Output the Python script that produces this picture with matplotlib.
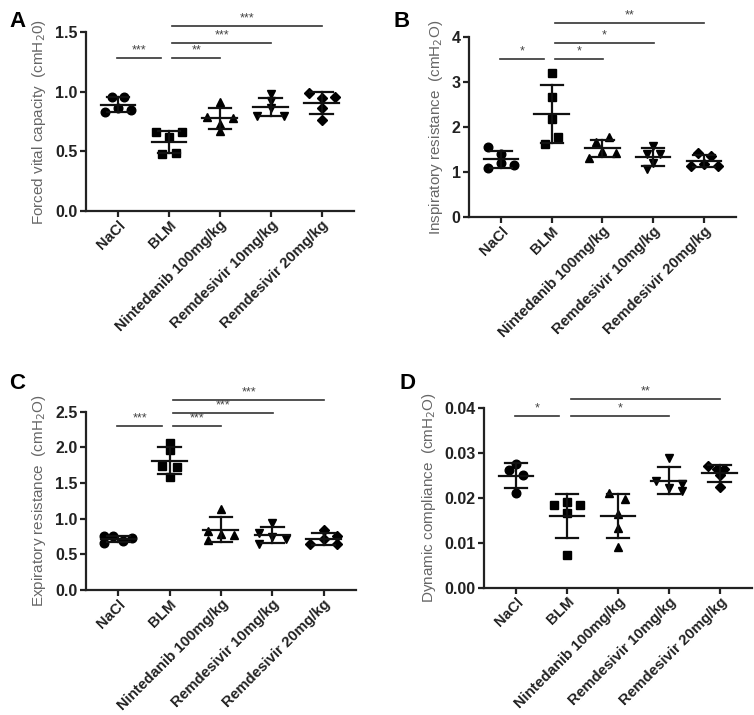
import numpy as np
import matplotlib
matplotlib.use("Agg")
from matplotlib import pyplot as plt

groups = ["NaCl", "BLM", "Nintedanib 100mg/kg", "Remdesivir 10mg/kg", "Remdesivir 20mg/kg"]
markers = ["o", "s", "^", "v", "D"]

# panel A - forced vital capacity
fvc = [
    [0.83, 0.96, 0.86, 0.96, 0.85],
    [0.66, 0.62, 0.66, 0.475, 0.49],
    [0.91, 0.79, 0.78, 0.73, 0.67],
    [0.98, 0.92, 0.86, 0.80, 0.80],
    [0.99, 0.95, 0.96, 0.86, 0.765],
]
# panel B - inspiratory resistance
ins_res = [
    [1.56, 1.39, 1.09, 1.20, 1.15],
    [3.19, 2.67, 2.17, 1.78, 1.62],
    [1.67, 1.78, 1.32, 1.47, 1.41],
    [1.58, 1.39, 1.39, 1.19, 1.07],
    [1.41, 1.35, 1.17, 1.13, 1.13],
]
# panel C - expiratory resistance
exp_res = [
    [0.76, 0.76, 0.655, 0.68, 0.725],
    [2.06, 1.97, 1.74, 1.73, 1.58],
    [1.14, 0.83, 0.79, 0.77, 0.70],
    [0.94, 0.80, 0.74, 0.715, 0.64],
    [0.84, 0.72, 0.64, 0.76, 0.64],
]
# panel D - dynamic compliance (NaCl has 4 animals)
dyn_comp = [
    [0.0274, 0.0250, 0.0262, 0.0210],
    [0.0184, 0.0190, 0.0184, 0.0166, 0.0073],
    [0.0210, 0.0197, 0.0164, 0.0132, 0.0091],
    [0.0288, 0.0236, 0.0230, 0.0222, 0.0214],
    [0.0270, 0.0264, 0.0264, 0.0251, 0.0223],
]

# significance bars: (group1, group2, height, label)
sig_a = [(0, 1, 1.285, "***"), (1, 2, 1.285, "**"), (1, 3, 1.413, "***"), (1, 4, 1.556, "***")]
sig_b = [(0, 1, 3.50, "*"), (1, 2, 3.50, "*"), (1, 3, 3.87, "*"), (1, 4, 4.30, "**")]
sig_c = [(0, 1, 2.30, "***"), (1, 2, 2.30, "***"), (1, 3, 2.49, "***"), (1, 4, 2.67, "***")]
sig_d = [(0, 1, 0.0381, "*"), (1, 3, 0.0381, "*"), (1, 4, 0.0420, "**")]

# x offsets of the points inside each group (scatter layout)
offsets = {
    "A": [[-0.25, -0.12, 0.0, 0.12, 0.26], [-0.26, 0.0, 0.26, -0.13, 0.13], [0.0, -0.25, 0.26, 0.0, 0.0],
          [0.0, 0.0, -0.0, -0.26, 0.26], [-0.25, 0.0, 0.26, 0.0, 0.0]],
    "B": [[-0.25, 0.0, -0.25, 0.0, 0.26], [0.0, 0.0, 0.0, 0.13, -0.13], [-0.13, 0.13, -0.26, 0.0, 0.26],
          [0.0, -0.13, 0.13, 0.0, -0.13], [-0.11, 0.13, 0.0, -0.26, 0.27]],
    "C": [[-0.27, -0.1, -0.27, 0.09, 0.26], [0.0, 0.0, -0.14, 0.14, 0.0], [0.0, -0.26, 0.0, 0.26, -0.26],
          [0.0, -0.26, 0.0, 0.26, -0.26], [0.0, 0.0, -0.27, 0.26, 0.26]],
    "D": [[0.0, 0.14, -0.14, 0.0], [-0.26, 0.0, 0.26, 0.0, 0.0], [-0.17, 0.13, 0.0, 0.0, 0.0],
          [0.0, -0.26, 0.26, 0.0, 0.26], [-0.23, -0.05, 0.08, 0.0, 0.0]],
}

panels = [
    ("A", fvc, sig_a, "Forced vital capacity  (cmH$_2$0)", (0, 1.5), [0, 0.5, 1.0, 1.5], "{:.1f}",
     [0.114, 0.705, 0.355, 0.250]),
    ("B", ins_res, sig_b, "Inspiratory resistance  (cmH$_2$O)", (0, 4), [0, 1, 2, 3, 4], "{:.0f}",
     [0.622, 0.6965, 0.354, 0.252]),
    ("C", exp_res, sig_c, "Expiratory resistance  (cmH$_2$O)", (0, 2.5), [0, 0.5, 1.0, 1.5, 2.0, 2.5], "{:.1f}",
     [0.114, 0.175, 0.358, 0.249]),
    ("D", dyn_comp, sig_d, "Dynamic compliance  (cmH$_2$O)", (0, 0.04), [0, 0.01, 0.02, 0.03, 0.04], "{:.2f}",
     [0.642, 0.178, 0.355, 0.252]),
]

letter_pos = {"A": (0.012, 0.985), "B": (0.522, 0.985), "C": (0.012, 0.478), "D": (0.530, 0.478)}

plt.rcParams["font.family"] = ["Liberation Sans", "DejaVu Sans"]

fig = plt.figure(figsize=(7.54, 7.15), dpi=100)

for key, data, sigs, ylabel, ylim, yticks, fmt, rect in panels:
    ax = fig.add_axes(rect)
    for i, vals in enumerate(data):
        xs = [i + o for o in offsets[key][i][:len(vals)]]
        ms = 4.8 if markers[i] == "D" else 6.2
        ax.plot(xs, vals, linestyle="none", marker=markers[i], color="black", markersize=ms, clip_on=False, zorder=3)
        m = np.mean(vals)
        sd = np.std(vals, ddof=1)
        ax.plot([i - 0.34, i + 0.34], [m, m], color="#111111", lw=1.6, zorder=4)
        ax.plot([i, i], [m - sd, m + sd], color="#111111", lw=1.6, zorder=4)
        ax.plot([i - 0.22, i + 0.22], [m + sd, m + sd], color="#111111", lw=1.6, zorder=4)
        ax.plot([i - 0.22, i + 0.22], [m - sd, m - sd], color="#111111", lw=1.6, zorder=4)

    span = ylim[1] - ylim[0]
    for g1, g2, h, lab in sigs:
        x1 = g1 - 0.02 if g1 == 0 else g1 + 0.07
        x2 = g2 - 0.15 if g1 == 0 else g2 + 0.01
        ax.plot([x1, x2], [h, h], color="#333333", lw=1.2, clip_on=False)
        ax.text((x1 + x2) / 2, h + span * 0.008, lab, ha="center", va="bottom", fontsize=9,
                color="#444444", clip_on=False)

    ax.set_xlim(-0.63, 4.63)
    ax.set_ylim(*ylim)
    ax.set_yticks(yticks)
    ax.set_yticklabels([fmt.format(t) for t in yticks])
    ax.set_xticks(range(len(groups)))
    ax.set_xticklabels(groups, rotation=45, ha="right", rotation_mode="anchor")
    for lbl in ax.get_yticklabels():
        lbl.set_fontweight("bold")
        lbl.set_fontsize(11.5)
        lbl.set_color("#222222")
    for lbl in ax.get_xticklabels():
        lbl.set_fontweight("bold")
        lbl.set_fontsize(10.8)
        lbl.set_color("#222222")
    ax.spines["top"].set_visible(False)
    ax.spines["right"].set_visible(False)
    for s in ("left", "bottom"):
        ax.spines[s].set_linewidth(1.6)
        ax.spines[s].set_color("#222222")
    ax.tick_params(axis="both", direction="out", length=4, width=1.6, color="#222222", pad=2)
    ax.tick_params(axis="x", pad=1)
    ax.set_ylabel(ylabel, fontsize=11, color="#666666", labelpad=5)

    fig.text(letter_pos[key][0], letter_pos[key][1], key, fontsize=16, fontweight="bold", va="top", ha="left")

fig.savefig("out.png", dpi=100)
